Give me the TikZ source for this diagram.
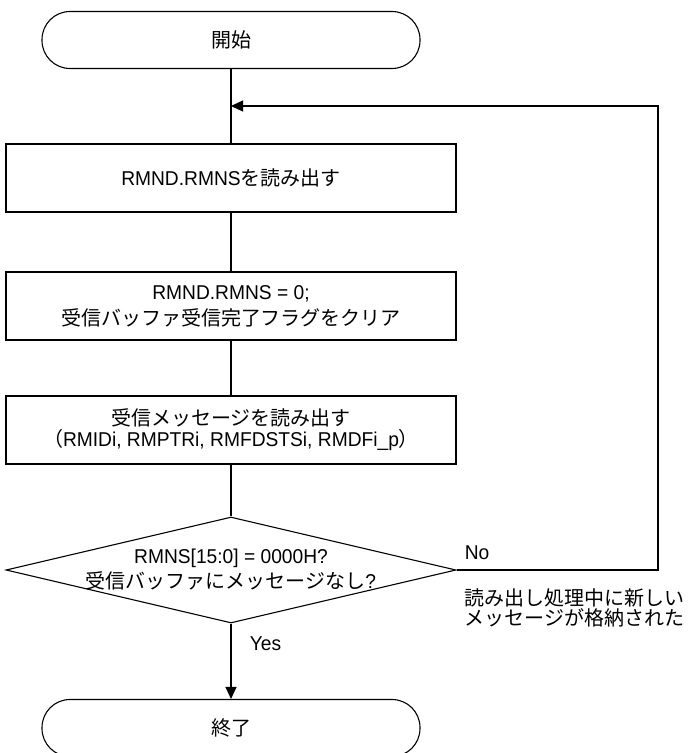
\documentclass[tikz,border=0pt]{standalone}
\usepackage{fontspec}
\setmainfont[FakeStretch=0.96]{Liberation Sans}
\newfontfamily\jp{Noto Sans CJK JP}
\usetikzlibrary{shapes.geometric,arrows.meta}

\begin{document}
\begin{tikzpicture}[x=1pt, y=-1pt, line width=1.1pt,
    font=\fontsize{20}{21}\selectfont,
    terminal/.style={draw, rectangle, rounded corners=28pt, minimum width=378pt, minimum height=57pt, inner sep=0pt},
    process/.style={draw, rectangle, minimum width=450pt, minimum height=68pt, align=center, inner sep=0pt},
    decision/.style={draw, diamond, minimum width=450pt, minimum height=106pt, inner sep=0pt},
    flow/.style={-{Triangle[length=12pt, width=11pt]}}]
    \useasboundingbox (0,0) rectangle (689,753);

    % Start
    \node[terminal] (start) at (231,40) {\jp 開始};

    % Read RMND.RMNS
    \node[process] (readnd) at (231,178) {RMND.RMNS{\jp を読み出す}};

    % Clear flag
    \node[process] (clear) at (231,306) {RMND.RMNS = 0;\\[5pt]{\jp 受信バッファ受信完了フラグをクリア}};

    % Read message
    \node[process] (readmsg) at (231,430) {{\jp 受信メッセージを読み出す}\\{\jp （}RMIDi, RMPTRi, RMFDSTSi, RMDFi\_p{\jp ）}};

    % Empty check
    \node[decision, label={[align=center]center:RMNS[15:0] = 0000H?\\[3pt]{\jp 受信バッファにメッセージなし}?}] (check) at (231,570) {};

    % End
    \node[terminal] (stop) at (231,728) {\jp 終了};

    % Labels
    \node[anchor=west] (no) at (461,553) {No};
    \node[anchor=west] (yes) at (246,644) {Yes};
    \node[anchor=west, align=left, font=\fontsize{20}{20.5}\selectfont\jp] (note) at (461,608) {読み出し処理中に新しい\\メッセージが格納された};

    % Loop points
    \coordinate (merge) at (231,106);
    \coordinate (loop) at (658,106);

    % Arrows
    \draw (start) -- (readnd);
    \draw (readnd) -- (clear);
    \draw (clear) -- (readmsg);
    \draw (readmsg) -- (check);
    \draw[flow] (check) -- (stop);
    \draw[flow] (check.east) -| (loop) -- (merge);
\end{tikzpicture}
\end{document}
